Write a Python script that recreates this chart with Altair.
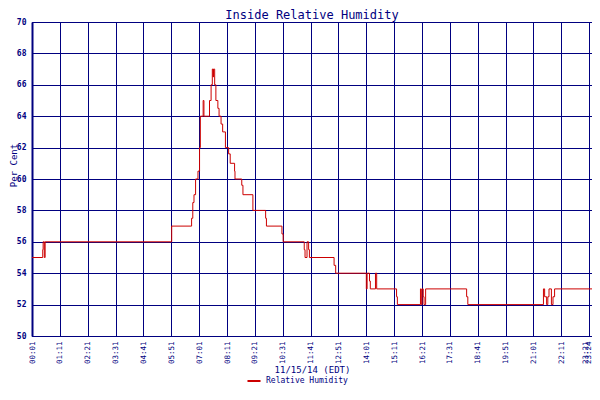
import altair as alt
import pandas as pd

NAVY = "#000080"
RED = "#cc0000"
MONO = "DejaVu Sans Mono"

# minutes after midnight (11/15/14) at which the reading changes, and the new reading
minutes = [1, 28, 29, 32, 34, 352, 402, 405, 408, 412, 418, 422, 424, 431, 433,
           447, 451, 454, 456, 457, 460, 463, 468, 471, 476, 480, 487, 495, 499,
           510, 511, 528, 531, 556, 588, 590, 629, 632, 685, 687, 692, 696, 698,
           760, 764, 841, 843, 849, 851, 864, 867, 917, 919, 977, 979, 981, 984,
           986, 990, 1093, 1096, 1286, 1289, 1294, 1297, 1300, 1306, 1310, 1314,
           1408]
humidity = [55, 55.5, 56, 55, 56, 57, 57.5, 58.5, 59, 60, 60.5, 62, 64, 65, 64,
            65, 66, 67, 66.5, 67, 66, 65, 64.5, 64, 63.5, 63, 62, 61.6, 61,
            60.5, 60, 59.6, 59, 58, 57.5, 57, 56.5, 56, 55.5, 55, 56, 55.5, 55,
            54.5, 54, 53, 54, 53.5, 53, 54, 53, 52.5, 52, 53, 52, 53, 52.5,
            52, 53, 52.5, 52, 53, 52.5, 52, 52.5, 53, 52, 52.5, 53,
            53]

tick_values = [1, 71, 141, 211, 281, 351, 421, 491, 561, 631, 701, 771, 841,
               911, 981, 1051, 1121, 1191, 1261, 1331, 1401, 1408]
tick_labels = ["00:01", "01:11", "02:21", "03:31", "04:41", "05:51", "07:01",
               "08:11", "09:21", "10:31", "11:41", "12:51", "14:01", "15:11",
               "16:21", "17:31", "18:41", "19:51", "21:01", "22:11", "23:21",
               "23:24"]
y_ticks = [50, 52, 54, 56, 58, 60, 62, 64, 66, 68, 70]

df = pd.DataFrame({"minute": minutes, "humidity": humidity,
                   "series": ["Relative Humidity"] * len(minutes)})

label_expr = "[" + ",".join(f"'{s}'" for s in tick_labels) + "][indexof([" + \
    ",".join(str(v) for v in tick_values) + "], datum.value)]"

chart = alt.Chart(df).mark_line(
    interpolate="step-after", strokeWidth=1
).encode(
    x=alt.X("minute:Q",
            scale=alt.Scale(domain=[1, 1408], nice=False, zero=False),
            axis=alt.Axis(values=tick_values, labelExpr=label_expr,
                          labelAngle=-90, labelAlign="right", labelBaseline="middle",
                          labelFont=MONO, labelFontSize=7.5, labelColor=NAVY,
                          labelPadding=5, labelFlush=False, labelOverlap=False,
                          labelOffset=alt.condition("datum.value >= 1401",
                                                    alt.value(-4), alt.value(0)),
                          ticks=False, grid=True, gridColor=NAVY, gridOpacity=1,
                          gridWidth=1, domainColor=NAVY, domainWidth=1,
                          title="11/15/14 (EDT)", titleFont=MONO, titleFontSize=9,
                          titleFontWeight="normal", titleColor=NAVY,
                          titleY=33, titleBaseline="middle")),
    y=alt.Y("humidity:Q",
            scale=alt.Scale(domain=[50, 70], nice=False, zero=False),
            axis=alt.Axis(values=y_ticks, format="d",
                          labelFont=MONO, labelFontSize=8, labelFontWeight="bold",
                          labelColor=NAVY, labelPadding=6, ticks=False,
                          labelFlush=False,
                          grid=True, gridColor=NAVY, gridOpacity=1, gridWidth=1,
                          domainColor=NAVY, domainWidth=2,
                          title="Per Cent", titleFont=MONO, titleFontSize=9,
                          titleFontWeight="normal", titleColor=NAVY,
                          titleX=-19, titleY=143, titleAngle=-90,
                          titleAlign="center", titleBaseline="middle")),
    color=alt.Color("series:N",
                    scale=alt.Scale(domain=["Relative Humidity"], range=[RED]),
                    legend=alt.Legend(title=None, orient="none", legendX=214,
                                      legendY=351, symbolType="stroke",
                                      symbolStrokeWidth=2, symbolSize=170,
                                      labelFont=MONO, labelFontSize=8,
                                      labelColor=NAVY, padding=0, labelOffset=4)),
).properties(
    width=560,
    height=314,
    title=alt.TitleParams("Inside Relative Humidity", anchor="middle",
                          font=MONO, fontSize=12, fontWeight="normal",
                          color=NAVY, offset=3, dy=7),
    autosize=alt.AutoSizeParams(type="none"),
    padding={"left": 24, "top": 14, "right": 0, "bottom": 50},
    background="white",
).configure_view(stroke=NAVY, strokeWidth=1)

chart.save("out.html", embed_options={"renderer": "svg", "actions": False})
